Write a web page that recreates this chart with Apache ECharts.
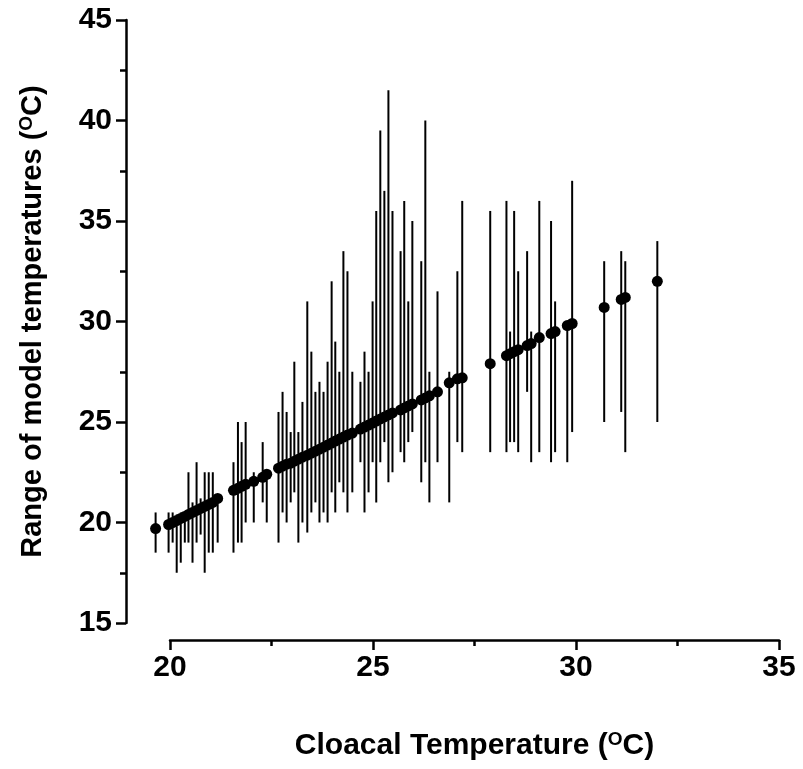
<!DOCTYPE html>
<html>
<head>
<meta charset="utf-8">
<script src="https://cdn.jsdelivr.net/npm/echarts@6/dist/echarts.min.js"></script>
<style>
  html, body { margin: 0; padding: 0; background: #fff; }
  #cloacal-range-chart { width: 803px; height: 769px; }
</style>
</head>
<body>
<div id="cloacal-range-chart"></div>
<script>
// cloacal temperature of each animal (x)
var cloacalTemp = [
  19.63, 19.95, 20.05, 20.15, 20.25, 20.35, 20.44, 20.54, 20.64, 20.74, 20.84, 20.94, 21.04, 21.16,
  21.55, 21.66, 21.75, 21.85, 22.05, 22.27, 22.37,
  22.66, 22.76, 22.86, 22.96, 23.05, 23.15, 23.25, 23.37, 23.47, 23.57, 23.67, 23.77, 23.87,
  23.97, 24.06, 24.16, 24.26, 24.36, 24.48, 24.68, 24.78, 24.88, 24.98, 25.07, 25.17, 25.27,
  25.37, 25.47, 25.67, 25.76, 25.86, 25.96, 26.18, 26.28, 26.38, 26.58,
  26.87, 27.07, 27.19, 27.88, 28.28, 28.37, 28.47, 28.57, 28.79, 28.89, 29.09, 29.38, 29.48,
  29.78, 29.9, 30.69, 31.11, 31.21, 32.0
];
// mean of model temperatures (dot)
var modelMean = [
  19.7, 19.9, 20.0, 20.1, 20.2, 20.3, 20.4, 20.5, 20.6, 20.7, 20.8, 20.9, 21.0, 21.2,
  21.6, 21.7, 21.8, 21.9, 22.05, 22.25, 22.4,
  22.7, 22.8, 22.9, 22.95, 23.05, 23.15, 23.25, 23.35, 23.45, 23.55, 23.65, 23.75, 23.85,
  23.95, 24.05, 24.15, 24.25, 24.35, 24.45, 24.65, 24.75, 24.85, 24.95, 25.05, 25.15, 25.25,
  25.35, 25.45, 25.6, 25.7, 25.8, 25.9, 26.1, 26.2, 26.3, 26.5,
  26.95, 27.15, 27.2, 27.9, 28.3, 28.4, 28.5, 28.6, 28.8, 28.9, 29.2, 29.4, 29.5,
  29.8, 29.9, 30.7, 31.1, 31.2, 32.0
];
// lowest model temperature (bottom of bar)
var modelMin = [
  18.5, 18.5, 19.0, 17.5, 18.0, 19.0, 19.0, 18.0, 19.0, 19.4, 17.5, 18.5, 18.5, 19.0,
  18.5, 19.0, 19.0, 20.0, 20.0, 21.0, 20.0,
  19.0, 20.5, 20.0, 21.0, 21.5, 19.0, 20.0, 19.5, 20.5, 21.0, 20.0, 20.5, 20.0,
  21.5, 20.5, 22.0, 21.5, 20.5, 21.5, 23.0, 20.5, 21.5, 23.0, 21.0, 23.0, 24.0,
  22.0, 22.5, 23.5, 23.0, 24.0, 24.5, 22.0, 23.0, 21.0, 23.0,
  21.0, 24.0, 23.5, 23.5, 23.5, 24.0, 24.0, 23.5, 26.5, 23.0, 23.5, 23.0, 23.5,
  23.0, 24.5, 25.0, 25.5, 23.5, 25.0
];
// highest model temperature (top of bar)
var modelMax = [
  20.5, 20.5, 20.5, 20.4, 20.5, 20.5, 22.5, 21.0, 23.0, 21.2, 22.5, 22.5, 22.5, 21.2,
  23.0, 25.0, 24.0, 25.0, 22.5, 24.0, 22.5,
  25.5, 26.5, 25.5, 24.5, 28.0, 24.5, 26.0, 31.0, 28.5, 26.5, 27.0, 26.5, 28.0,
  32.0, 29.0, 27.5, 33.5, 32.5, 27.5, 27.0, 28.5, 27.5, 31.0, 35.5, 39.5, 36.5,
  41.5, 35.5, 33.5, 36.0, 31.0, 35.0, 33.0, 40.0, 27.5, 31.5,
  27.5, 32.5, 36.0, 35.5, 36.0, 29.5, 35.5, 32.5, 33.5, 29.5, 36.0, 35.0, 31.0,
  30.0, 37.0, 33.0, 33.5, 33.0, 34.0
];

var yTicks = [15, 20, 25, 30, 35, 40, 45];
var xTicks = [20, 25, 30, 35];

var rangeData = [];
var meanData = [];
for (var i = 0; i < cloacalTemp.length; i++) {
  rangeData.push([cloacalTemp[i], modelMin[i], modelMax[i]]);
  meanData.push([cloacalTemp[i], modelMean[i]]);
}

var chartDom = document.getElementById("cloacal-range-chart");
var chart = echarts.init(chartDom);

var boldFont = "Liberation Sans";
var supStyle = {
  sup: { fontSize: 19, fontWeight: "bold", fontFamily: boldFont, color: "#000", verticalAlign: "top", padding: [0, 0, 12, 0] },
};

var option = {
  animation: false,
  backgroundColor: "#fff",
  grid: [
    { left: 126, right: 24, top: 20, bottom: 146 },
    { left: 170, right: 24, top: 620, bottom: 129 },
  ],
  xAxis: [
    {
      gridIndex: 0,
      type: "value",
      min: 18.9,
      max: 35,
      show: false,
    },
    {
      gridIndex: 1,
      type: "value",
      min: xTicks[0],
      max: xTicks[xTicks.length - 1],
      interval: 5,
      position: "bottom",
      axisLine: { show: true, lineStyle: { color: "#000", width: 2.5 } },
      axisTick: { show: true, length: 10, lineStyle: { color: "#000", width: 2.5 } },
      minorTick: { show: true, splitNumber: 2, length: 6, lineStyle: { color: "#000", width: 2.5 } },
      splitLine: { show: false },
      axisLabel: { color: "#000", fontSize: 30, fontWeight: "bold", fontFamily: boldFont, margin: 13 },
      name: "Cloacal Temperature ({sup|O}C)",
      nameLocation: "middle",
      nameGap: 90,
      nameTextStyle: { color: "#000", fontSize: 30, fontWeight: "bold", fontFamily: boldFont, rich: supStyle },
    },
  ],
  yAxis: [
    {
      gridIndex: 0,
      type: "value",
      min: yTicks[0],
      max: yTicks[yTicks.length - 1],
      interval: 5,
      axisLine: { show: true, lineStyle: { color: "#000", width: 2.5 } },
      axisTick: { show: true, length: 10, lineStyle: { color: "#000", width: 2.5 } },
      minorTick: { show: true, splitNumber: 2, length: 6, lineStyle: { color: "#000", width: 2.5 } },
      splitLine: { show: false },
      axisLabel: { color: "#000", fontSize: 30, fontWeight: "bold", fontFamily: boldFont, margin: 14 },
      name: "Range of model temperatures ({sup|O}C)",
      nameLocation: "middle",
      nameGap: 78,
      nameRotate: 90,
      nameTextStyle: { color: "#000", fontSize: 29, fontWeight: "bold", fontFamily: boldFont, rich: supStyle },
    },
    {
      gridIndex: 1,
      type: "value",
      show: false,
    },
  ],
  series: [
    {
      type: "custom",
      xAxisIndex: 0,
      yAxisIndex: 0,
      data: rangeData,
      encode: { x: 0, y: [1, 2] },
      renderItem: function (params, api) {
        var low = api.coord([api.value(0), api.value(1)]);
        var high = api.coord([api.value(0), api.value(2)]);
        return {
          type: "line",
          shape: { x1: low[0], y1: low[1], x2: high[0], y2: high[1] },
          style: { stroke: "#000", lineWidth: 2 },
        };
      },
      z: 2,
    },
    {
      type: "scatter",
      xAxisIndex: 0,
      yAxisIndex: 0,
      data: meanData,
      symbol: "circle",
      symbolSize: 11,
      itemStyle: { color: "#000", opacity: 1 },
      z: 3,
    },
  ],
};

chart.setOption(option);
</script>
</body>
</html>
